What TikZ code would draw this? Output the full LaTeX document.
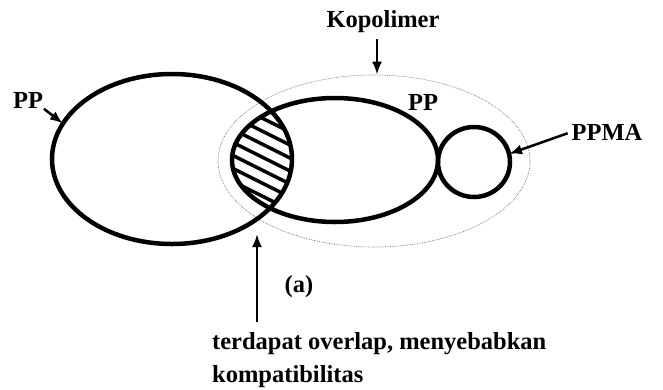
\documentclass[tikz,border=0pt]{standalone}
\usepackage{fontspec}
\setmainfont{Liberation Serif}
\usetikzlibrary{shapes.geometric}
\usetikzlibrary{arrows.meta}
\tikzset{>={Latex[length=13pt,width=10pt]}}
\tikzset{ring/.style={ellipse, draw, line width=4.5pt, inner sep=0pt, outer sep=0pt},
  shell/.style={ellipse, draw=black!55, line width=0.7pt, densely dotted, inner sep=0pt},
  lbl/.style={font=\fontsize{24.5}{33}\selectfont\bfseries, inner sep=0pt},
  pointer/.style={->, line width=2.5pt}}

\begin{document}
\begin{tikzpicture}[x=1pt, y=-1pt]
  \useasboundingbox (0,0) rectangle (663,389);
  \node at (374,161) [shell, minimum width=312pt, minimum height=172pt] (cop) {};
  \begin{scope}
    \clip (172,159) ellipse [x radius=120, y radius=85];
    \clip (335,160) ellipse [x radius=103, y radius=62];
    \foreach \k in {-8,...,8}
      \draw[line width=3.5pt] (200,100+13*\k) -- (340,170+13*\k);
  \end{scope}
  \node at (172,159) [ring, minimum width=240pt, minimum height=170pt] (ppA) {};
  \node at (335,160) [ring, minimum width=206pt, minimum height=124pt] (ppB) {};
  \node at (474,162) [ring, minimum width=72pt, minimum height=70pt] (ppma) {};
  \node at (28,108) [lbl, anchor=base] (ppAL) {PP};
  \node at (423,110) [lbl, anchor=base] (ppBL) {PP};
  \node at (607,140) [lbl, anchor=base] (ppmaL) {PPMA};
  \node at (383,27) [lbl, anchor=base] (kopL) {Kopolimer};
  \node at (299,292) [lbl, anchor=base] (figL) {(a)};
  \node at (212,332) [lbl, anchor=north west, align=left] (noteL) {terdapat overlap, menyebabkan\\kompatibilitas};
  \coordinate (ovTip) at (257,234);
  \draw[pointer, shorten <=1pt] (ppAL.south east) -- (ppA.162);
  \draw[pointer, shorten <=4pt] (ppmaL.west) -- (ppma.13);
  \draw[pointer, shorten <=7pt] (kopL.south -| cop.88) -- (cop.88);
  \draw[pointer, shorten <=10pt] (noteL.north -| ovTip) -- (ovTip);
\end{tikzpicture}
\end{document}
